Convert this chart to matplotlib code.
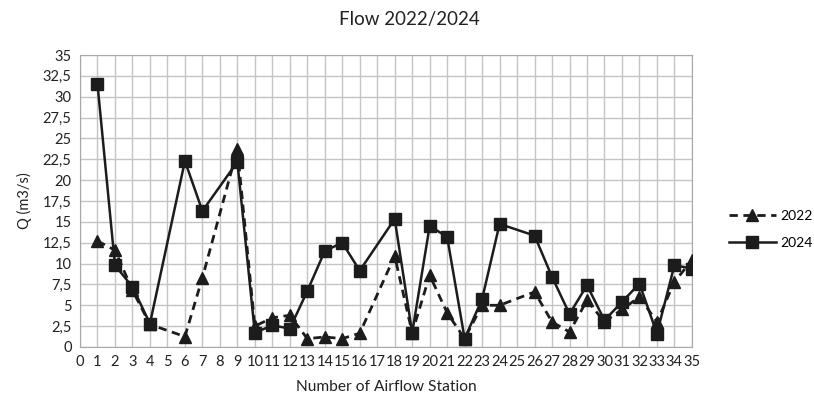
import numpy as np
import matplotlib
matplotlib.use("Agg")
import matplotlib.pyplot as plt

plt.rcParams['font.family'] = ['Lato', 'DejaVu Sans']

# stations with a reading (5, 8, 17, 25 have none)
stations = [1, 2, 3, 4, 6, 7, 9, 10, 11, 12, 13, 14, 15, 16, 18, 19, 20, 21,
            22, 23, 24, 26, 27, 28, 29, 30, 31, 32, 33, 34, 35]
q_2022 = [12.7, 11.6, 6.8, 2.7, 1.25, 8.3, 23.7, 2.5, 3.5, 3.8, 1.0, 1.2, 1.0,
          1.65, 10.9, 1.7, 8.6, 4.1, 1.0, 5.0, 5.0, 6.6, 3.0, 1.8, 5.6, 3.0,
          4.5, 6.0, 3.0, 7.8, 10.4]
q_2024 = [31.5, 9.8, 7.2, 2.8, 22.3, 16.3, 22.2, 1.7, 2.6, 2.2, 6.7, 11.5, 12.5,
          9.15, 15.35, 1.7, 14.5, 13.2, 1.0, 5.75, 14.75, 13.35, 8.4, 3.95, 7.4,
          3.2, 5.4, 7.6, 1.6, 9.8, 9.4]

x_ticks = np.arange(0, 36)
y_ticks = np.arange(0, 35.1, 2.5)
y_labels = [('%g' % v).replace('.', ',') for v in y_ticks]

col = '#1c1c1c'
txt = '#222222'
fig = plt.figure(figsize=(8.14, 4.01), dpi=100)
ax = fig.add_axes([0.0983, 0.1347, 0.7517, 0.7281])

ax.plot(stations, q_2022, linestyle=(0, (3, 2)), color=col, lw=2.0,
        marker='^', markersize=8.5, label='2022', zorder=3)
ax.plot(stations, q_2024, linestyle='-', color=col, lw=1.8,
        marker='s', markersize=8.5, label='2024', zorder=4)

ax.set_xlim(0, 35)
ax.set_ylim(0, 35)
ax.set_xticks(x_ticks)
ax.set_xticklabels([str(v) for v in x_ticks], fontsize=10.5)
ax.set_yticks(y_ticks)
ax.set_yticklabels(y_labels, fontsize=10.5)
ax.tick_params(length=0, pad=6, colors=txt)
ax.grid(True, color='#c4c4c4', lw=1.0)
ax.set_axisbelow(True)
for s in ax.spines.values():
    s.set_color('#a8a8a8')

fig.text(0.503, 0.952, 'Flow 2022/2024', fontsize=13.5, color=txt,
         ha='center', va='center')
ax.set_xlabel('Number of Airflow Station', fontsize=11.2, color=txt, labelpad=8)
ax.set_ylabel('Q (m3/s)', fontsize=10.5, color=txt, labelpad=8)

ax.legend(loc='center left', bbox_to_anchor=(0.895, 0.428), bbox_transform=fig.transFigure,
          frameon=False, fontsize=10, handlelength=3.4, handletextpad=0.3,
          borderpad=0, borderaxespad=0, labelspacing=1.05)

fig.savefig('out.png', dpi=100)
